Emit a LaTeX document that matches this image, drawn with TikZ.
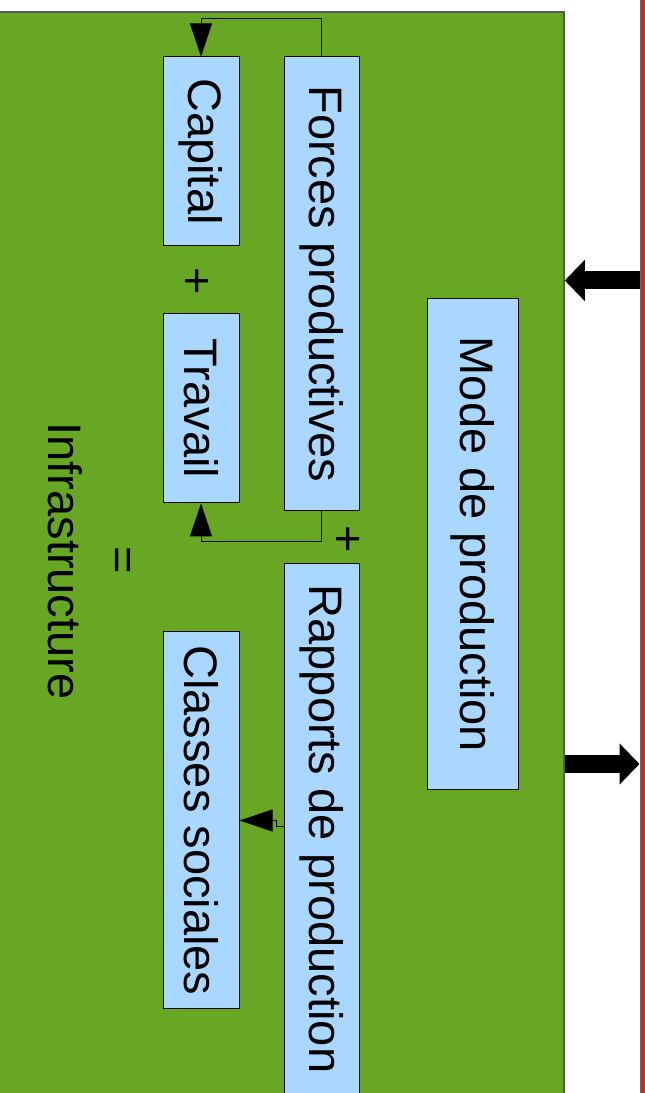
\documentclass[tikz,border=0pt]{standalone}
\usepackage{fontspec}
\setmainfont{Liberation Sans}
\usetikzlibrary{arrows.meta, positioning, calc}
\definecolor{infragreen}{RGB}{104, 167, 35}
\definecolor{boxblue}{RGB}{170, 215, 255}
\definecolor{superred}{RGB}{213, 38, 18}

\begin{document}
\begin{tikzpicture}[x=1pt, y=1pt,
    box/.style={draw=black, line width=1pt, fill=boxblue, rotate=-90, inner sep=0pt, font=\fontsize{47}{56}\selectfont},
    sign/.style={rotate=-90, inner sep=0pt, font=\fontsize{47}{56}\selectfont},
    link/.style={line width=1pt, -{Triangle[length=33pt, width=22pt]}},
    bigarrow/.style={line width=18pt, -{Triangle[length=20pt, width=40pt]}}
]
\path[use as bounding box, clip] (0,0) rectangle (645,1093);
\node[draw=black!65, line width=1.5pt, fill=infragreen, minimum width=572pt, minimum height=1100pt, inner sep=0pt] (infra) at (278,531) {};
\node[draw=black!60, line width=1pt, fill=superred, minimum width=12pt, minimum height=1120pt, inner sep=0pt] (super) at (646,546.5) {};

\node[box, minimum width=189pt, minimum height=76pt] (capital) at (201,941.5) {Capital};
\node[box, minimum width=454pt, minimum height=75pt] (forces) at (321.5,809) {Forces productives};
\node[box, minimum width=189pt, minimum height=76pt] (travail) at (201,684.5) {Travail};
\node[box, minimum width=530pt, minimum height=75pt] (rapports) at (321.5,264) {Rapports de production};
\node[box, minimum width=377pt, minimum height=76pt] (classes) at (201,272.5) {Classes sociales};
\node[box, minimum width=491pt, minimum height=91pt] (mode) at (472.5,548.5) {Mode de production};

\node[sign] (plusa) at (195,812) {+};
\node[sign] (plusb) at (346.5,554) {+};
\node[sign] (equal) at (119.5,532.5) {=};
\node[sign] (infratext) at (65,532) {Infrastructure};

\draw[link] (forces.west) -- ++(0,38) -| (capital.west);
\draw[link] (forces.east) -- ++(0,-30) -| (travail.east);
\coordinate (rp) at (rapports.south |- 0,266);
\draw[link] (rp) -- ++(-7,0) |- (classes.north);

\draw[bigarrow] (super.west |- 0,812.5) -- (infra.east |- 0,812.5);
\draw[bigarrow] (infra.east |- 0,329) -- (super.west |- 0,329);
\end{tikzpicture}
\end{document}
